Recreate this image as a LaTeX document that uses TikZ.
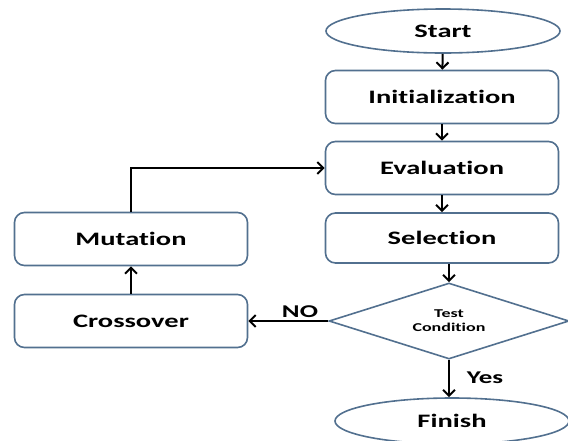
\documentclass[tikz,border=0pt]{standalone}
\usepackage{fontspec}
\setmainfont{Carlito}[FakeStretch=1.5, Ligatures=NoCommon]
\usepackage{tikz}
\usetikzlibrary{arrows.meta,shapes.geometric}

\definecolor{edgeblue}{RGB}{82,112,143}

\tikzset{
    stepbox/.style = {draw = edgeblue, line width = 1.6pt, rounded corners = 10pt,
        fill = white, inner sep = 0pt, minimum width = 233pt, minimum height = 53pt,
        font = \fontsize{19}{22}\selectfont\bfseries},
    terminal/.style = {draw = edgeblue, line width = 1.6pt, ellipse, fill = white,
        inner sep = 0pt, minimum width = 234pt, minimum height = 44pt,
        font = \fontsize{19}{22}\selectfont\bfseries},
    decision/.style = {draw = edgeblue, line width = 1.6pt, diamond, aspect = 3.16,
        fill = white, inner sep = 0pt, minimum width = 240pt, minimum height = 76pt,
        align = center, font = \fontsize{12}{14}\selectfont\bfseries},
    arr/.style = {-{Straight Barb[length = 6pt, width = 12pt]}, line width = 2pt, black},
    lbl/.style = {font = \fontsize{18}{20}\selectfont\bfseries}
}

\begin{document}
\begin{tikzpicture}[x = 1pt, y = -1pt]
        \useasboundingbox (0, 0) rectangle (568, 440);

        \node[terminal] (start) at (443, 31) {Start};
        \node[stepbox] (init) at (442, 97) {Initialization};
        \node[stepbox] (eval) at (442, 168) {Evaluation};
        \node[stepbox, minimum height = 50pt] (sel) at (442, 238) {Selection};
        \node[decision] (test) at (449, 321) {Test\\Condition};
        \node[terminal, minimum height = 46pt] (finish) at (452, 421) {Finish};

        \node[stepbox] (mut) at (131, 239) {Mutation};
        \node[stepbox] (cross) at (131, 321) {Crossover};

        \draw[arr] (start) -- (init);
        \draw[arr] (init) -- (eval);
        \draw[arr] (eval) -- (sel);
        \draw[arr] (sel.south -| test.north) -- (test.north);
        \draw[arr] (test.south) -- (finish.north -| test.south);
        \node[lbl] (yes) at (485, 378) {Yes};
        \draw[arr] (test.west) -- (cross.east);
        \node[lbl] (no) at (300, 312) {NO};
        \draw[arr] (cross) -- (mut);
        \draw[arr] (mut.north) |- (eval.west);
    \end{tikzpicture}
\end{document}
